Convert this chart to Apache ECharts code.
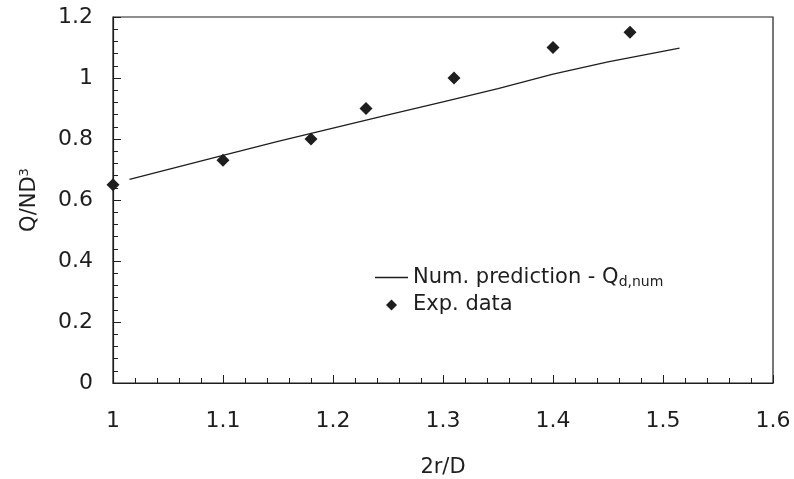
<!DOCTYPE html>
<html>
<head>
<meta charset="utf-8">
<script src="https://cdn.jsdelivr.net/npm/echarts@6/dist/echarts.min.js"></script>
<style>html,body{margin:0;padding:0;background:#fff}#c{width:794px;height:479px}</style>
</head>
<body>
<div id="c"></div>
<script>
// Experimental data
var expX = [1.0, 1.1, 1.18, 1.23, 1.31, 1.40, 1.47];
var expY = [0.65, 0.73, 0.80, 0.90, 1.00, 1.10, 1.15];
// Numerical prediction
var numX = [1.015, 1.1, 1.15, 1.2, 1.25, 1.3, 1.35, 1.4, 1.45, 1.515];
var numY = [0.668, 0.746, 0.792, 0.836, 0.879, 0.922, 0.965, 1.013, 1.053, 1.098];

var FONT = 'DejaVu Sans';
var INK = '#1e1e1e';

function pairs(xs, ys) { return xs.map(function (x, i) { return [x, ys[i]]; }); }

var chart = echarts.init(document.getElementById('c'), null, { renderer: 'canvas' });
chart.setOption({
  animation: false,
  backgroundColor: '#fff',
  grid: { left: 113, top: 17, right: 21, bottom: 96, containLabel: false, outerBoundsMode: 'none',
    show: true, borderColor: INK, borderWidth: 1.2, backgroundColor: 'transparent' },
  xAxis: {
    type: 'value', min: 1, max: 1.6, interval: 0.1,
    name: '2r/D', nameLocation: 'middle', nameGap: 74,
    nameTextStyle: { fontFamily: FONT, fontSize: 21, color: INK },
    axisLine: { show: true, lineStyle: { color: INK, width: 1.2 } },
    axisTick: { show: true, inside: true, length: 8, lineStyle: { color: INK } },
    minorTick: { show: true, splitNumber: 5, length: 5, lineStyle: { color: INK } },
    splitLine: { show: false },
    axisLabel: { fontFamily: FONT, fontSize: 22, color: INK, margin: 27 }
  },
  yAxis: {
    type: 'value', min: 0, max: 1.2, interval: 0.2,
    name: '{m|Q/ND}{s|3}', nameLocation: 'middle', nameGap: 72, nameRotate: 90,
    nameTextStyle: { fontFamily: FONT, fontSize: 21, color: INK,
      rich: { m: { fontFamily: FONT, fontSize: 21, color: INK }, s: { fontFamily: FONT, fontSize: 13, color: INK, verticalAlign: 'top', padding: [0, 0, 10, 0] } } },
    axisLine: { show: true, lineStyle: { color: INK, width: 1.2 } },
    axisTick: { show: true, inside: true, length: 8, lineStyle: { color: INK } },
    minorTick: { show: true, splitNumber: 5, length: 5, lineStyle: { color: INK } },
    splitLine: { show: false },
    axisLabel: { fontFamily: FONT, fontSize: 22, color: INK, margin: 20 }
  },
  legend: {
    orient: 'vertical', left: 370, top: 262, itemWidth: 33, itemHeight: 11, itemGap: 5,
    symbolKeepAspect: true,
    data: [
      { name: 'Num. prediction - Qd,num', icon: 'path://M0,0L33,0L33,1.3L0,1.3Z' },
      { name: 'Exp. data', icon: 'path://M5,0L10,5L5,10L0,5Z' }
    ],
    formatter: function (name) {
      if (name === 'Num. prediction - Qd,num') return '{t|Num. prediction - Q}{s|d,num}';
      return '{t|' + name + '}';
    },
    textStyle: { fontFamily: FONT, fontSize: 21, color: INK,
      rich: { t: { fontFamily: FONT, fontSize: 21, color: INK, lineHeight: 22 }, s: { fontFamily: FONT, fontSize: 14, color: INK, padding: [10, 0, 0, 0] } } }
  },
  series: [
    {
      name: 'Num. prediction - Qd,num', type: 'line', data: pairs(numX, numY),
      symbol: 'none', smooth: false,
      lineStyle: { color: INK, width: 1.3 }, itemStyle: { color: INK }
    },
    {
      name: 'Exp. data', type: 'scatter', data: pairs(expX, expY),
      symbol: 'diamond', symbolSize: 13, clip: false,
      itemStyle: { color: INK, opacity: 1 }
    }
  ]
});
</script>
</body>
</html>
